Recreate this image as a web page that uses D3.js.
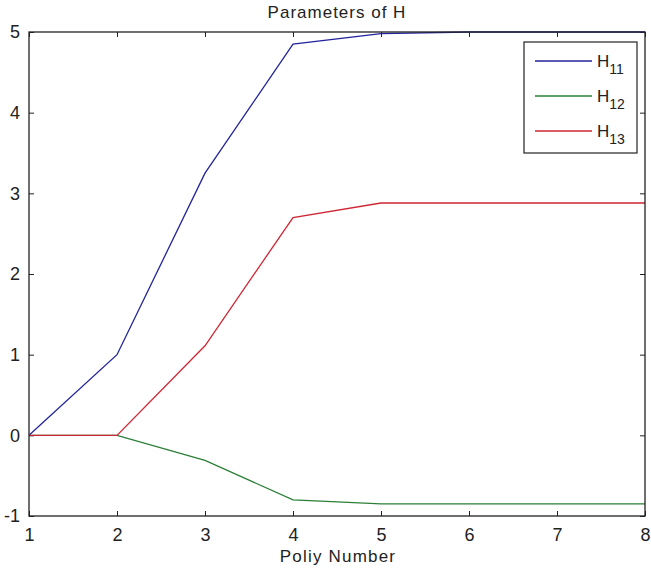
<!DOCTYPE html>
<html>
<head>
<meta charset="utf-8">
<script src="https://cdn.jsdelivr.net/npm/d3@7"></script>
<style>
  body { margin: 0; background: #fff; }
  text { font-family: "Liberation Sans", Arial, sans-serif; fill: #222; }
</style>
</head>
<body>
<script>
// values
var policies = [1, 2, 3, 4, 5, 6, 7, 8];
var h11 = [0, 1.0, 3.25, 4.85, 4.98, 5, 5, 5];
var h12 = [0, 0, -0.31, -0.80, -0.85, -0.85, -0.85, -0.85];
var h13 = [0, 0, 1.11, 2.70, 2.88, 2.88, 2.88, 2.88];
var xTicks = [1, 2, 3, 4, 5, 6, 7, 8];
var yTicks = [-1, 0, 1, 2, 3, 4, 5];

var series = [
    {name: "H", sub: "11", values: h11, color: "#23239c"},
    {name: "H", sub: "12", values: h12, color: "#2b7f36"},
    {name: "H", sub: "13", values: h13, color: "#cf2633"}
];

var W = 651, Ht = 573;
var pLeft = 29, pRight = 645, pTop = 32, pBottom = 516;

var svg = d3.select("body").append("svg")
    .attr("width", W)
    .attr("height", Ht);

var x = d3.scaleLinear().domain([1, 8]).range([pLeft, pRight]);
var y = d3.scaleLinear().domain([-1, 5]).range([pBottom, pTop]);
var fmt = function(d) { return String(d); };

// axes with inward ticks on all four sides
var tick = 5;
svg.append("g")
    .attr("transform", "translate(0," + pBottom + ")")
    .call(d3.axisBottom(x).tickValues(xTicks).tickFormat(fmt).tickSizeInner(-tick).tickSizeOuter(0).tickPadding(12))
    .call(function(g) {
        g.select(".domain").remove();
        g.selectAll("text").style("font-size", "18px");
    });
svg.append("g")
    .attr("transform", "translate(0," + pTop + ")")
    .call(d3.axisTop(x).tickValues(xTicks).tickSizeInner(-tick).tickSizeOuter(0).tickFormat(""))
    .call(function(g) { g.select(".domain").remove(); });
svg.append("g")
    .attr("transform", "translate(" + pLeft + ",0)")
    .call(d3.axisLeft(y).tickValues(yTicks).tickFormat(fmt).tickSizeInner(-tick).tickSizeOuter(0).tickPadding(9))
    .call(function(g) {
        g.select(".domain").remove();
        g.selectAll("text").style("font-size", "18px");
    });
svg.append("g")
    .attr("transform", "translate(" + pRight + ",0)")
    .call(d3.axisRight(y).tickValues(yTicks).tickSizeInner(-tick).tickSizeOuter(0).tickFormat(""))
    .call(function(g) { g.select(".domain").remove(); });

svg.selectAll(".tick line").attr("stroke", "#222");

var line = d3.line()
    .x(function(d, i) { return x(policies[i]); })
    .y(function(d) { return y(d); });

svg.selectAll(".series")
    .data(series)
    .enter()
    .append("path")
    .attr("class", "series")
    .attr("d", function(d) { return line(d.values); })
    .attr("fill", "none")
    .attr("stroke", function(d) { return d.color; })
    .attr("stroke-width", 1.3);

// frame
svg.append("rect")
    .attr("x", pLeft).attr("y", pTop)
    .attr("width", pRight - pLeft).attr("height", pBottom - pTop)
    .attr("fill", "none")
    .attr("stroke", "#222")
    .attr("stroke-width", 1.3);

// title and label
svg.append("text")
    .attr("x", (pLeft + pRight) / 2).attr("y", 18)
    .attr("text-anchor", "middle")
    .style("font-size", "17px")
    .style("letter-spacing", "1px")
    .text("Parameters of H");
svg.append("text")
    .attr("x", (pLeft + pRight) / 2 + 1).attr("y", 562)
    .attr("text-anchor", "middle")
    .style("font-size", "17px")
    .style("letter-spacing", "1.2px")
    .text("Poliy Number");

// legend
var legend = svg.append("g");
legend.append("rect")
    .attr("x", 524).attr("y", 42)
    .attr("width", 113).attr("height", 111)
    .attr("fill", "#fff")
    .attr("stroke", "#222")
    .attr("stroke-width", 1.2);

var item = legend.selectAll(".item")
    .data(series)
    .enter()
    .append("g")
    .attr("class", "item")
    .attr("transform", function(d, i) { return "translate(0," + (61 + i * 35) + ")"; });

item.append("line")
    .attr("x1", 535).attr("x2", 592)
    .attr("stroke", function(d) { return d.color; })
    .attr("stroke-width", 1.3);

var t = item.append("text")
    .attr("x", 597).attr("y", 6)
    .style("font-size", "17px");
t.append("tspan").text(function(d) { return d.name; });
t.append("tspan")
    .attr("dy", 7)
    .style("font-size", "14px")
    .text(function(d) { return d.sub; });
</script>
</body>
</html>
